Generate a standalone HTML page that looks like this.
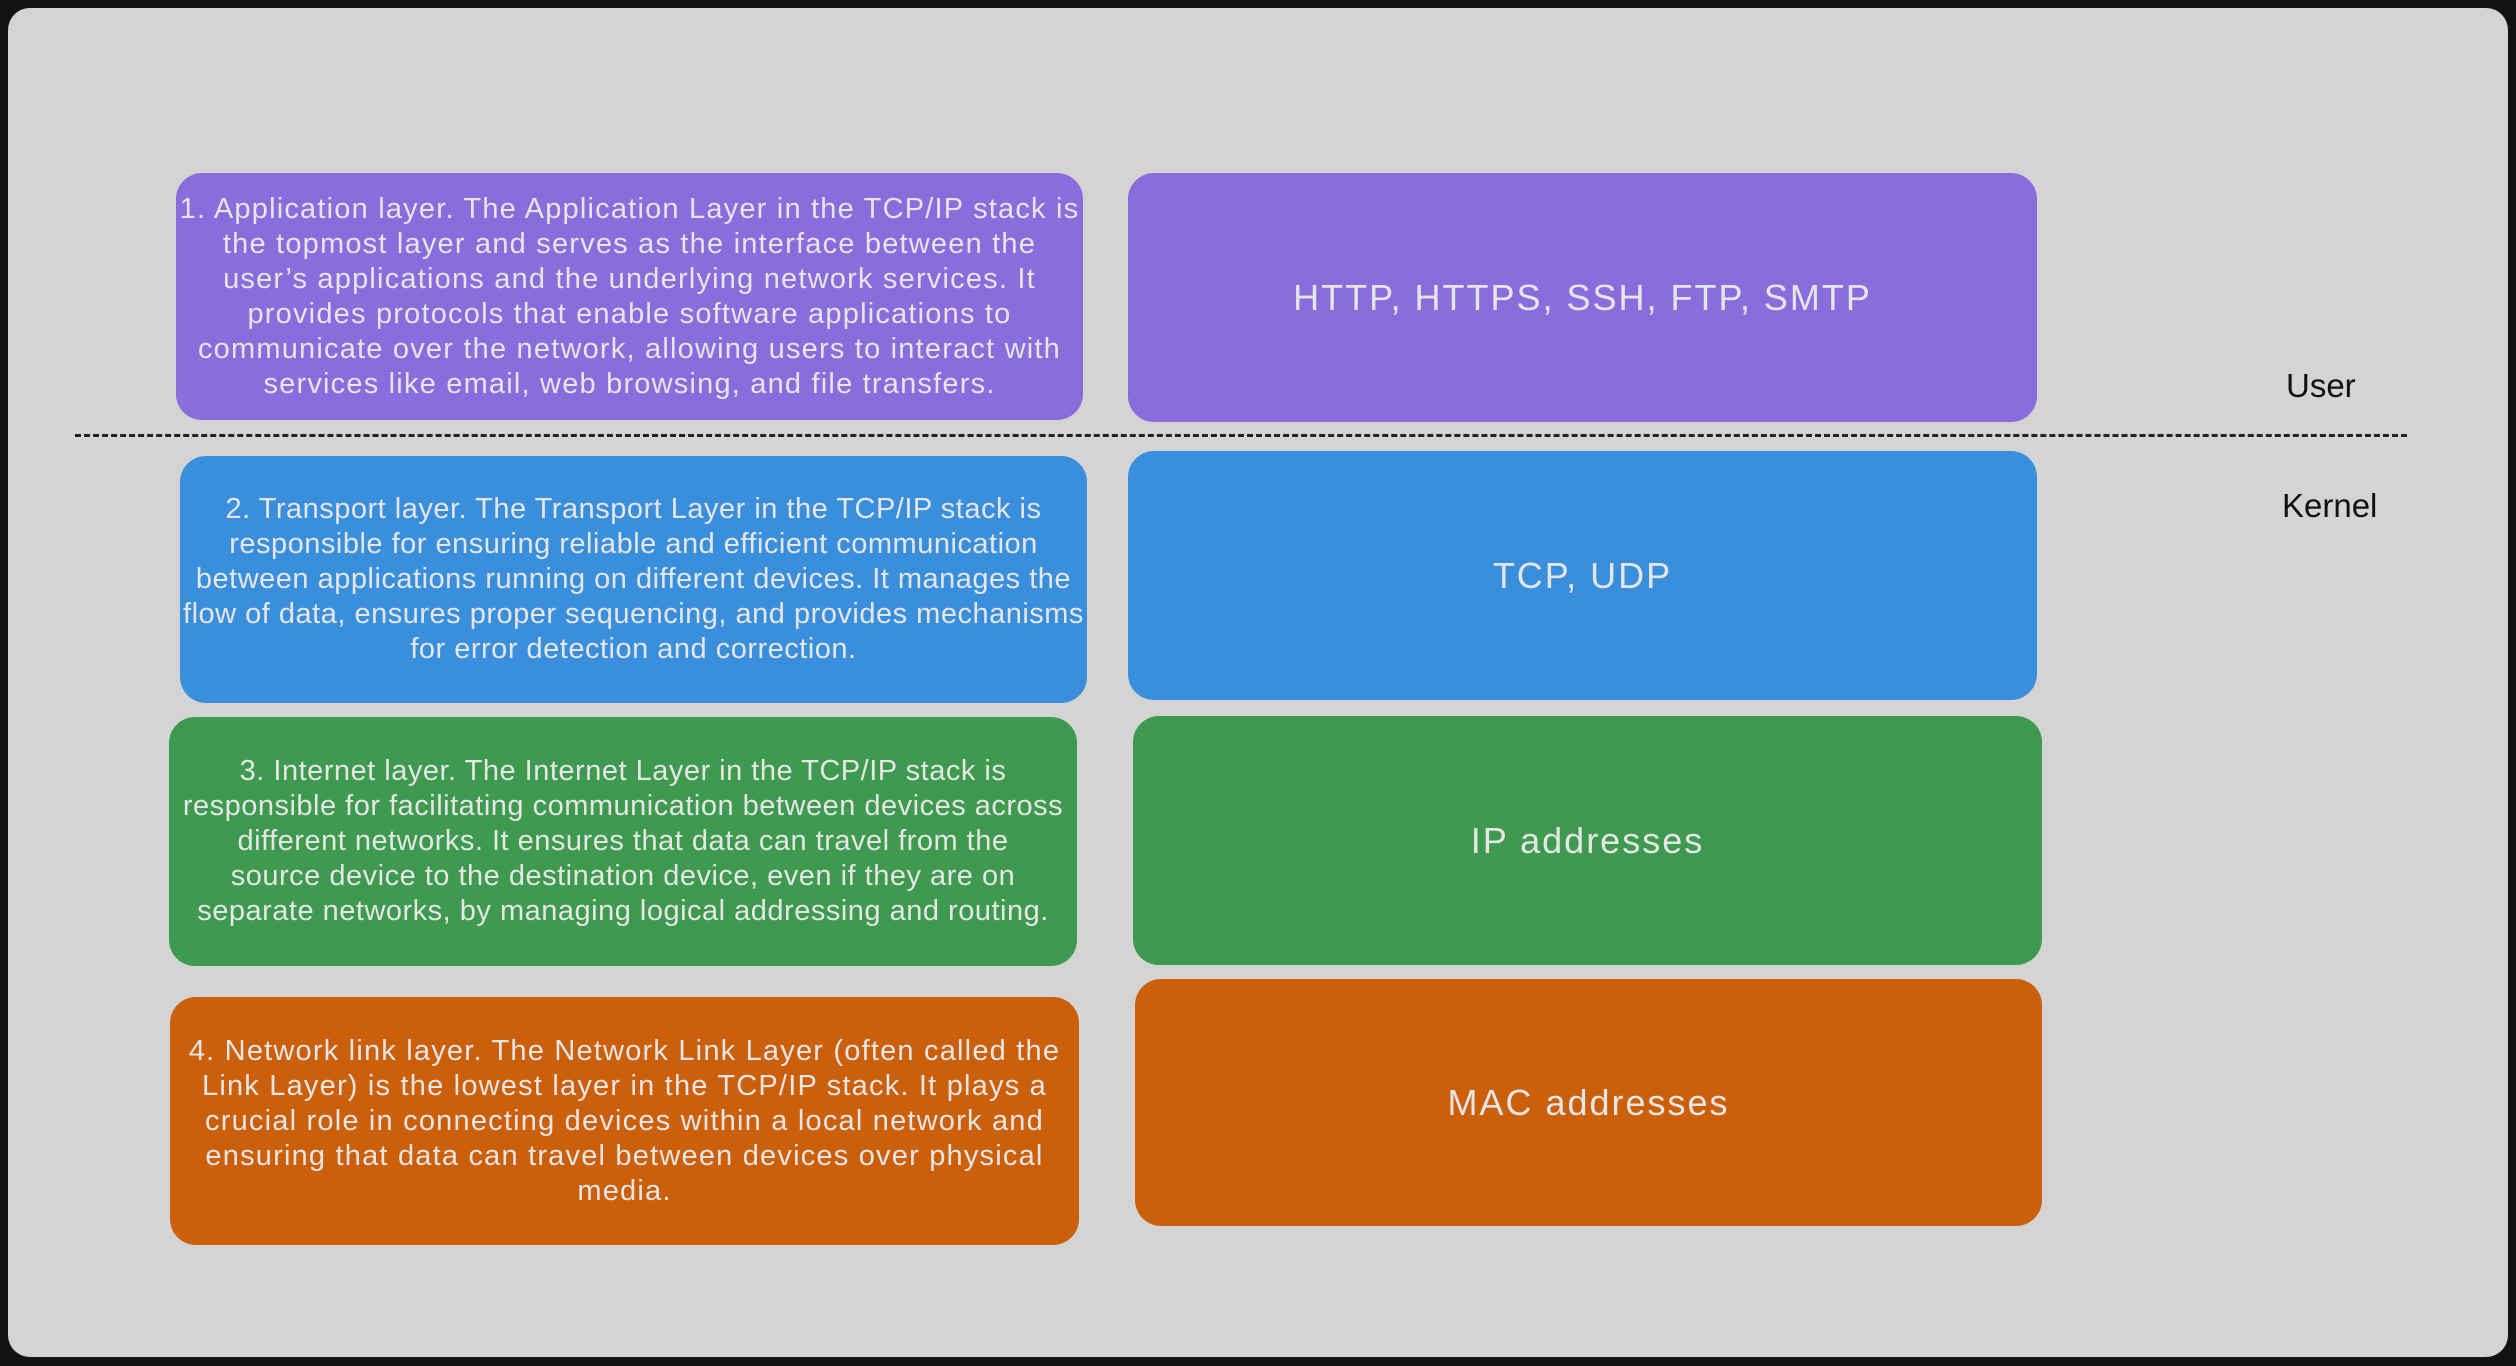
<!DOCTYPE html>
<html><head><meta charset="utf-8">
<style>
html,body{margin:0;padding:0;background:#121212;width:2516px;height:1366px;overflow:hidden;font-family:"Liberation Sans",sans-serif}
#panel{position:absolute;left:8px;top:8px;width:2500px;height:1349px;background:#d4d4d4;border-radius:22px}
.box{position:absolute;border-radius:26px;display:flex;align-items:center;justify-content:center;text-align:center;color:#e6e6e6;box-sizing:border-box}
.desc{font-size:29px;line-height:35px;white-space:nowrap;letter-spacing:1.2px}
.tight{letter-spacing:0.5px}
.big{font-size:36px;letter-spacing:2px}
.purple{background:#8a6cdd}.blue{background:#3a8fdd}.green{background:#3d9a4f}.orange{background:#cc5f0a}
.lbl{position:absolute;font-size:33px;color:#111}
#dash{position:absolute;left:75px;top:434px;width:2332px;border-top:3px dashed #222}
</style></head><body>
<div id="panel"></div>
<div class="box purple desc" style="left:176px;top:173px;width:907px;height:247px">1. Application layer. The Application Layer in the TCP/IP stack is<br>the topmost layer and serves as the interface between the<br>user’s applications and the underlying network services. It<br>provides protocols that enable software applications to<br>communicate over the network, allowing users to interact with<br>services like email, web browsing, and file transfers.</div>
<div class="box purple big" style="left:1128px;top:173px;width:909px;height:249px">HTTP, HTTPS, SSH, FTP, SMTP</div>
<div id="dash"></div>
<div class="lbl" style="left:2286px;top:367px">User</div>
<div class="lbl" style="left:2282px;top:487px">Kernel</div>
<div class="box blue desc tight" style="left:180px;top:456px;width:907px;height:247px">2. Transport layer. The Transport Layer in the TCP/IP stack is<br>responsible for ensuring reliable and efficient communication<br>between applications running on different devices. It manages the<br>flow of data, ensures proper sequencing, and provides mechanisms<br>for error detection and correction.</div>
<div class="box blue big" style="left:1128px;top:451px;width:909px;height:249px">TCP, UDP</div>
<div class="box green desc tight" style="left:169px;top:717px;width:908px;height:249px">3. Internet layer. The Internet Layer in the TCP/IP stack is<br>responsible for facilitating communication between devices across<br>different networks. It ensures that data can travel from the<br>source device to the destination device, even if they are on<br>separate networks, by managing logical addressing and routing.</div>
<div class="box green big" style="left:1133px;top:716px;width:909px;height:249px">IP addresses</div>
<div class="box orange desc" style="left:170px;top:997px;width:909px;height:248px">4. Network link layer. The Network Link Layer (often called the<br>Link Layer) is the lowest layer in the TCP/IP stack. It plays a<br>crucial role in connecting devices within a local network and<br>ensuring that data can travel between devices over physical<br>media.</div>
<div class="box orange big" style="left:1135px;top:979px;width:907px;height:247px">MAC addresses</div>
</body></html>
